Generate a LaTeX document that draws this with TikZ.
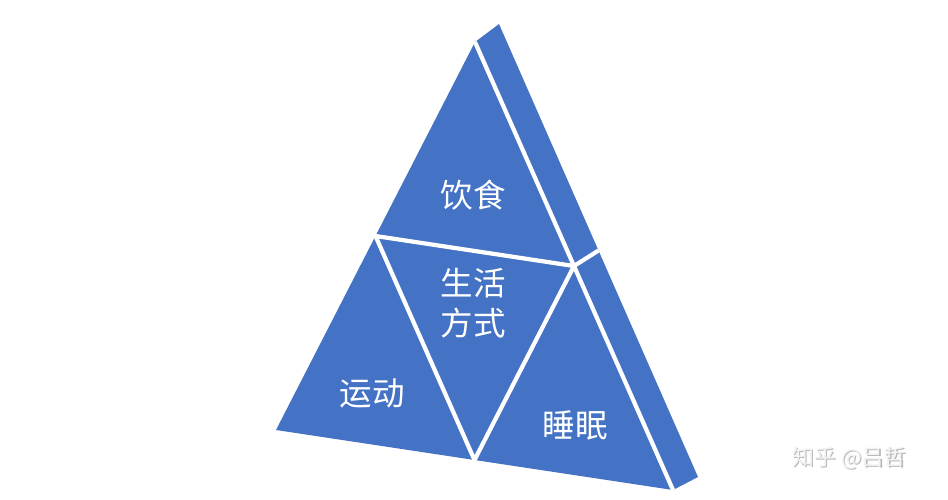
\documentclass[tikz,border=0pt]{standalone}
\usepackage{fontspec}
\setmainfont{Noto Sans CJK SC}
\usetikzlibrary{calc}
\definecolor{facecol}{HTML}{4472C4}

\begin{document}
\begin{tikzpicture}[x=0.02cm,y=-0.02cm]%
  \tikzstyle{face}=[fill=facecol]
  \tikzstyle{gap}=[draw=white,line width=2.4pt,line join=round]
  \tikzstyle{label}=[text=white,font=\fontsize{18.5}{22.7}\selectfont,align=center,inner sep=0]
  \tikzstyle{brand}=[font=\fontsize{12.5}{14}\selectfont,inner sep=0]
  \useasboundingbox (0,0) rectangle (948,500);
  % corners of the pyramid
  \coordinate (top) at (475,42);
  \coordinate (left) at (276,430);
  \coordinate (right) at (673,490);
  \coordinate (backtop) at (499,24);
  \coordinate (backright) at (698,477);
  \coordinate (ml) at ($(top)!0.5!(left)$);
  \coordinate (mr) at ($(top)!0.5!(right)$);
  \coordinate (mb) at ($(left)!0.5!(right)$);
  \coordinate (mback) at ($(backtop)!0.5!(backright)$);
  \fill[face] (top) -- (left) -- (right) -- cycle;
  \fill[face] (top) -- (backtop) -- (backright) -- (right) -- cycle;
  \draw[gap] (ml) -- (mr) -- (mb) -- cycle;
  \draw[gap] (top) -- (right);
  \draw[gap] (mr) -- (mback);
  \node(food)[label] at (473,195) {饮食};
  \node(life)[label] at (473,303) {生活\\方式};
  \node(sport)[label] at (372,393) {运动};
  \node(sleep)[label] at (575,425) {睡眠};
  \node(shadow)[brand,text=gray!55] at (850.2,459.2) {知乎 @吕哲};
  \node(brand)[brand,text=gray!10] at (849,458) {知乎 @吕哲};
\end{tikzpicture}
\end{document}
